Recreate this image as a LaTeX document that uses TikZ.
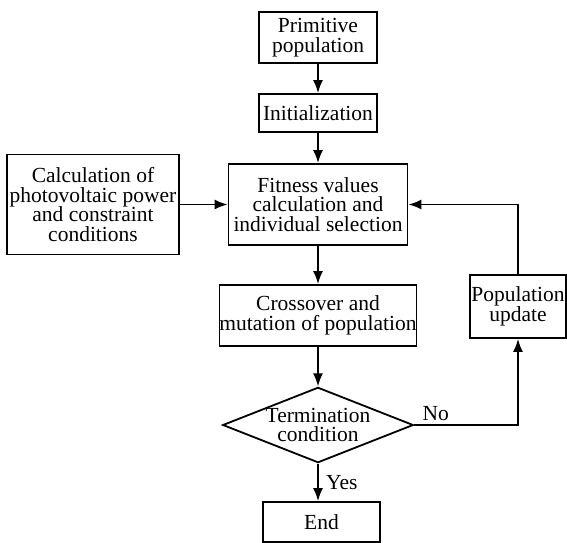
\documentclass[tikz,border=0pt]{standalone}
\usepackage{fontspec}
\setmainfont{Liberation Serif}
\usetikzlibrary{arrows.meta,shapes.geometric}

\begin{document}
\begin{tikzpicture}[x=1pt, y=-1pt, >={Latex[length=13pt,width=10pt]},
  every node/.style={font=\fontsize{21.5}{19.5}\selectfont},
  box/.style={draw, line width=1.8pt, inner sep=0pt, align=center},
  decision/.style={draw, diamond, line width=1.8pt, inner sep=0pt, aspect=2.53, align=center},
  flow/.style={->, line width=1.8pt}]
  \useasboundingbox (0,0) rectangle (567,542);
  \node[box, minimum width=118pt, minimum height=51pt] (prim) at (318,37.5) {Primitive\\ population};
  \node[box, minimum width=118pt, minimum height=38pt] (init) at (318,113) {Initialization};
  \node[box, minimum width=172pt, minimum height=100pt] (calc) at (93,204.5) {Calculation of\\ photovoltaic power\\ and constraint\\ conditions};
  \node[box, minimum width=179pt, minimum height=81pt] (fit) at (318,204.5) {Fitness values\\ calculation and\\ individual selection};
  \node[box, minimum width=192pt, minimum height=61pt] (cross) at (318,315.5) {Crossover and\\ mutation of population};
  \node[box, minimum width=96pt, minimum height=63pt] (upd) at (518,306.5) {Population\\ update};
  \node[decision, minimum width=185pt, minimum height=73pt] (term) at (318,425) {Termination\\ condition};
  \node[box, minimum width=117pt, minimum height=40pt] (end) at (321.5,522) {End};
  \draw[flow] (prim) -- (init);
  \draw[flow] (init) -- (fit);
  \draw[flow] (calc) -- (fit);
  \draw[flow] (fit) -- (cross);
  \draw[flow] (cross) -- (term);
  \draw[flow] (term.south) -- node[right, xshift=4pt] {Yes} (term.south |- end.north);
  \draw[flow] (term.east) -| node[pos=0.02, above right] {No} (upd.south);
  \draw[flow] (upd.north) |- (fit.east);
\end{tikzpicture}
\end{document}
